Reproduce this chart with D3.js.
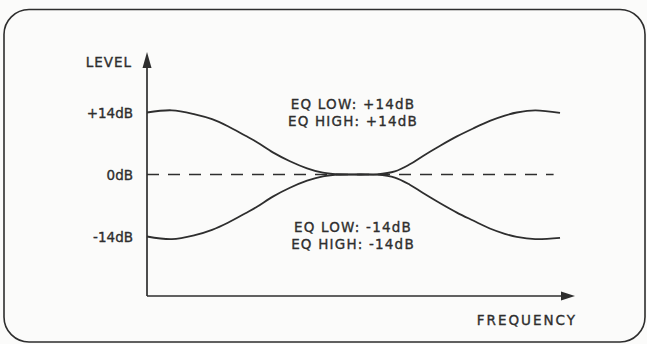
<!DOCTYPE html>
<html>
<head>
<meta charset="utf-8">
<script src="https://cdn.jsdelivr.net/npm/d3@7"></script>
<style>
  html, body { margin: 0; padding: 0; background: #fbfbfa; }
  svg { display: block; }
  text { font-family: "DejaVu Sans", sans-serif; fill: #2e2e2e; stroke: #2e2e2e; stroke-width: 0.35px; }
</style>
</head>
<body>
<script>
// Relative frequency positions (0 = left end of the axis, 100 = arrow tip)
const freq = [0, 5.8, 11.2, 15.2, 18.9, 22.9, 25.7, 29.4, 33.4, 37.4, 41.1, 45.1, 49.8,
              53.7, 57.9, 61.4, 64.5, 68.5, 72.4, 76.2, 80.1, 83.6, 86.4, 90.7, 96.5];
// Level response with both EQ bands boosted (dB)
const boost = [14.0, 14.5, 13.6, 12.5, 10.9, 8.8, 7.3, 5.0, 3.0, 1.4, 0.4, 0, 0,
               0.05, 0.7, 2.3, 4.2, 6.5, 8.6, 10.4, 12.1, 13.3, 14.0, 14.5, 13.9];
// Level response with both EQ bands cut (dB)
const cut = [-14.0, -14.6, -13.7, -12.5, -10.9, -8.8, -7.3, -5.0, -3.0, -1.4, -0.4, 0, 0,
             -0.05, -0.7, -2.3, -4.2, -6.5, -8.6, -10.4, -12.2, -13.4, -14.1, -14.6, -14.3];
const levelTicks = [14, 0, -14];
const tickLabels = ["+14dB", "0dB", "-14dB"];
const boostLabels = ["EQ LOW: +14dB", "EQ HIGH: +14dB"];
const cutLabels = ["EQ LOW: -14dB", "EQ HIGH: -14dB"];
const yTitle = "LEVEL";
const xTitle = "FREQUENCY";

const W = 647, H = 344;
const ink = "#2e2e2e";

const svg = d3.select("body").append("svg")
  .attr("width", W).attr("height", H);

// Rounded outer frame
svg.append("rect")
  .attr("x", 4).attr("y", 9.5)
  .attr("width", 641).attr("height", 332.5)
  .attr("rx", 25).attr("ry", 25)
  .attr("fill", "none").attr("stroke", ink).attr("stroke-width", 1.6);

const x = d3.scaleLinear().domain([0, 100]).range([147, 575]);
const y = d3.scaleLinear().domain([-14, 14]).range([236.5, 112.5]);
const axisY = 296;

// Level axis labels
const yAxis = d3.axisLeft(y)
  .tickValues(levelTicks)
  .tickSize(0)
  .tickPadding(14)
  .tickFormat((d, i) => tickLabels[i]);
const gy = svg.append("g").attr("transform", `translate(${x(0)},0)`).call(yAxis);
gy.select(".domain").remove();
gy.selectAll("text")
  .attr("font-family", "DejaVu Sans, sans-serif")
  .attr("font-size", 13.5)
  .attr("fill", ink)
  .attr("dy", "0.36em");

// Axis lines with arrow heads
svg.append("line")
  .attr("x1", x(0)).attr("y1", axisY)
  .attr("x2", x(0)).attr("y2", 60)
  .attr("stroke", ink).attr("stroke-width", 1.7);
svg.append("path")
  .attr("d", `M${x(0)},52 L${x(0) - 4.5},68 L${x(0) + 4.5},68 Z`)
  .attr("fill", ink);
svg.append("line")
  .attr("x1", x(0)).attr("y1", axisY)
  .attr("x2", x(100) - 8).attr("y2", axisY)
  .attr("stroke", ink).attr("stroke-width", 1.7);
svg.append("path")
  .attr("d", `M${x(100)},${axisY} L${x(100) - 14},${axisY - 4.5} L${x(100) - 14},${axisY + 4.5} Z`)
  .attr("fill", ink);

// Flat 0 dB reference
svg.append("line")
  .attr("x1", x(0)).attr("y1", y(0))
  .attr("x2", x(95)).attr("y2", y(0))
  .attr("stroke", ink).attr("stroke-width", 1.7)
  .attr("stroke-dasharray", "12 9");

// Response curves
const line = d3.line()
  .x((d, i) => x(freq[i]))
  .y(d => y(d))
  .curve(d3.curveCatmullRom.alpha(0.5));
[boost, cut].forEach(series => {
  svg.append("path")
    .attr("d", line(series))
    .attr("fill", "none")
    .attr("stroke", ink)
    .attr("stroke-width", 1.8);
});

// Titles
svg.append("text")
  .attr("x", 132).attr("y", 67)
  .attr("text-anchor", "end")
  .attr("font-size", 13.5)
  .attr("letter-spacing", 1)
  .text(yTitle);
svg.append("text")
  .attr("x", 577).attr("y", 325)
  .attr("text-anchor", "end")
  .attr("font-size", 13.5)
  .attr("letter-spacing", 2)
  .text(xTitle);

// Annotations
function annotate(lines, baseY) {
  lines.forEach((t, i) => {
    svg.append("text")
      .attr("x", 353).attr("y", baseY + i * 17)
      .attr("text-anchor", "middle")
      .attr("font-size", 13.5)
      .attr("letter-spacing", 1.2)
      .text(t);
  });
}
annotate(boostLabels, 108.5);
annotate(cutLabels, 232);
</script>
</body>
</html>
